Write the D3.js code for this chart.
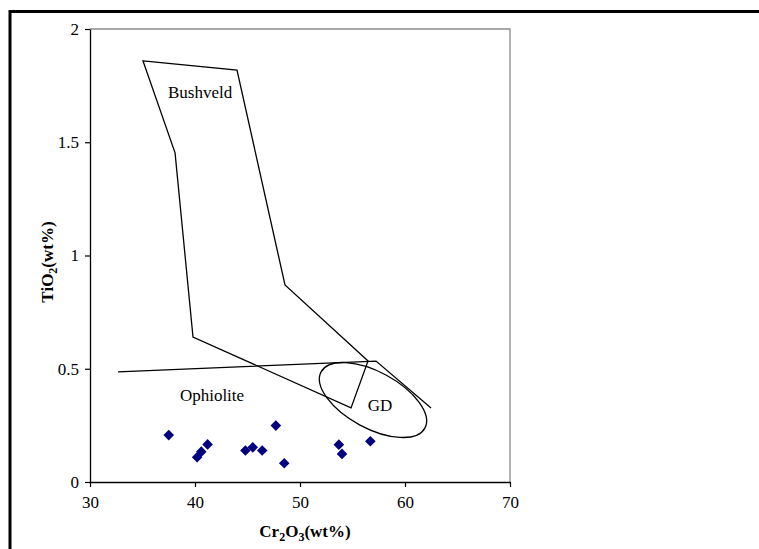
<!DOCTYPE html>
<html>
<head>
<meta charset="utf-8">
<script src="https://cdn.jsdelivr.net/npm/d3@7"></script>
<style>
body { margin: 0; background: #fff; }
text { font-family: "Liberation Serif", "Times New Roman", serif; fill: #000; }
.tick-label { font-size: 17px; }
.axis-title { font-size: 17px; font-weight: bold; }
.field-label { font-size: 17px; }
.field-line { fill: none; stroke: #000; stroke-width: 1.3; }
</style>
</head>
<body>
<div class="chart"></div>
<script>
// Sample points: Cr2O3 vs TiO2 (wt%)
var cr2o3 = [37.5, 40.2, 40.6, 41.2, 44.8, 45.5, 46.4, 47.7, 48.5, 53.7, 54.0, 56.7];
var tio2 = [0.207, 0.109, 0.134, 0.166, 0.139, 0.153, 0.139, 0.249, 0.083, 0.165, 0.124, 0.180];

// Bushveld field outline (closed)
var bushveld_x = [35.05, 44.0, 48.57, 56.48, 54.86, 39.81, 38.10];
var bushveld_y = [1.859, 1.819, 0.870, 0.534, 0.327, 0.640, 1.453];

// Ophiolite field boundary (open line)
var ophiolite_x = [32.67, 57.24, 62.48];
var ophiolite_y = [0.486, 0.534, 0.327];

// GD field ellipse: centre, end of long axis, end of short axis
var gd_x = [56.95, 61.89, 58.23];
var gd_y = [0.362, 0.238, 0.4715];

// Field names and where they sit
var field_names = ["Bushveld", "Ophiolite", "GD"];
var field_x = [40.48, 41.62, 57.62];
var field_y = [1.695, 0.358, 0.313];

// Axis ticks
var x_ticks = [30, 40, 50, 60, 70];
var y_ticks = [0, 0.5, 1, 1.5, 2];
var y_tick_labels = ["0", "0.5", "1", "1.5", "2"];

var W = 759;
var H = 549;
var PLOT_LEFT = 90;
var PLOT_RIGHT = 510;
var PLOT_TOP = 29;
var PLOT_BOTTOM = 482;
var TICK_LEN = 5;

var svg = d3.select(".chart").append("svg")
        .attr("width", W)
        .attr("height", H);

// Outer frame (runs off the right and bottom of the picture)
svg.append("rect")
        .attr("x", 10)
        .attr("y", 11.5)
        .attr("width", W + 20)
        .attr("height", H + 20)
        .attr("fill", "none")
        .attr("stroke", "#000")
        .attr("stroke-width", 3);

var x_scale = d3.scaleLinear().domain([30, 70]).range([PLOT_LEFT, PLOT_RIGHT]);
var y_scale = d3.scaleLinear().domain([0, 2]).range([PLOT_BOTTOM, PLOT_TOP]);

// Gray top and right border of plot area
svg.append("path")
        .attr("d", "M" + PLOT_LEFT + "," + PLOT_TOP + "H" + PLOT_RIGHT + "V" + PLOT_BOTTOM)
        .attr("fill", "none")
        .attr("stroke", "#8c8c8c")
        .attr("stroke-width", 1.3);

// Axes
var x_axis = d3.axisBottom(x_scale)
        .tickValues(x_ticks)
        .tickSize(TICK_LEN)
        .tickSizeOuter(0)
        .tickPadding(9);
var y_axis = d3.axisLeft(y_scale)
        .tickValues(y_ticks)
        .tickFormat(function (d, i) { return y_tick_labels[i]; })
        .tickSize(TICK_LEN)
        .tickSizeOuter(0)
        .tickPadding(6);

var gx = svg.append("g")
        .attr("transform", "translate(0," + PLOT_BOTTOM + ")")
        .call(x_axis);
var gy = svg.append("g")
        .attr("transform", "translate(" + PLOT_LEFT + ",0)")
        .call(y_axis);

[gx, gy].forEach(function (g) {
    g.attr("font-family", null).attr("font-size", null);
    g.select(".domain").attr("stroke", "#000").attr("stroke-width", 1.3);
    g.selectAll(".tick line").attr("stroke", "#000").attr("stroke-width", 1.2);
    g.selectAll(".tick text").attr("class", "tick-label").attr("fill", "#000");
});

// Bushveld polygon
var line_gen = d3.line()
        .x(function (d) { return x_scale(d[0]); })
        .y(function (d) { return y_scale(d[1]); });

svg.append("path")
        .datum(d3.zip(bushveld_x, bushveld_y))
        .attr("class", "field-line")
        .attr("d", function (d) { return line_gen(d) + "Z"; });

// Ophiolite boundary
svg.append("path")
        .datum(d3.zip(ophiolite_x, ophiolite_y))
        .attr("class", "field-line")
        .attr("d", line_gen);

// GD ellipse from its centre and axis ends
var gd_cx = x_scale(gd_x[0]);
var gd_cy = y_scale(gd_y[0]);
var major_dx = x_scale(gd_x[1]) - gd_cx;
var major_dy = y_scale(gd_y[1]) - gd_cy;
var minor_dx = x_scale(gd_x[2]) - gd_cx;
var minor_dy = y_scale(gd_y[2]) - gd_cy;
var gd_angle = Math.atan2(major_dy, major_dx) * 180 / Math.PI;

svg.append("ellipse")
        .attr("class", "field-line")
        .attr("cx", gd_cx)
        .attr("cy", gd_cy)
        .attr("rx", Math.sqrt(major_dx * major_dx + major_dy * major_dy))
        .attr("ry", Math.sqrt(minor_dx * minor_dx + minor_dy * minor_dy))
        .attr("transform", "rotate(" + gd_angle + "," + gd_cx + "," + gd_cy + ")");

// Field labels
svg.selectAll("text.field-label")
        .data(field_names)
        .enter().append("text")
        .attr("class", "field-label")
        .attr("x", function (d, i) { return x_scale(field_x[i]); })
        .attr("y", function (d, i) { return y_scale(field_y[i]); })
        .attr("text-anchor", "middle")
        .text(function (d) { return d; });

// Sample points as navy diamonds
var diamond = d3.symbol().type(d3.symbolSquare).size(56);
svg.selectAll("path.sample")
        .data(d3.zip(cr2o3, tio2))
        .enter().append("path")
        .attr("class", "sample")
        .attr("d", diamond)
        .attr("transform", function (d) {
            return "translate(" + x_scale(d[0]) + "," + y_scale(d[1]) + ") rotate(45)";
        })
        .attr("fill", "#000080");

// Axis titles with subscripts
var x_title = svg.append("text")
        .attr("class", "axis-title")
        .attr("x", (PLOT_LEFT + PLOT_RIGHT) / 2 + 5)
        .attr("y", 537)
        .attr("text-anchor", "middle");
x_title.append("tspan").text("Cr");
x_title.append("tspan").attr("font-size", "12px").attr("dy", 4).text("2");
x_title.append("tspan").attr("dy", -4).text("O");
x_title.append("tspan").attr("font-size", "12px").attr("dy", 4).text("3");
x_title.append("tspan").attr("dy", -4).text("(wt%)");

var y_title = svg.append("text")
        .attr("class", "axis-title")
        .attr("transform", "translate(53," + 262 + ") rotate(-90)")
        .attr("text-anchor", "middle");
y_title.append("tspan").text("TiO");
y_title.append("tspan").attr("font-size", "12px").attr("dy", 4).text("2");
y_title.append("tspan").attr("dy", -4).text("(wt%)");
</script>
</body>
</html>
